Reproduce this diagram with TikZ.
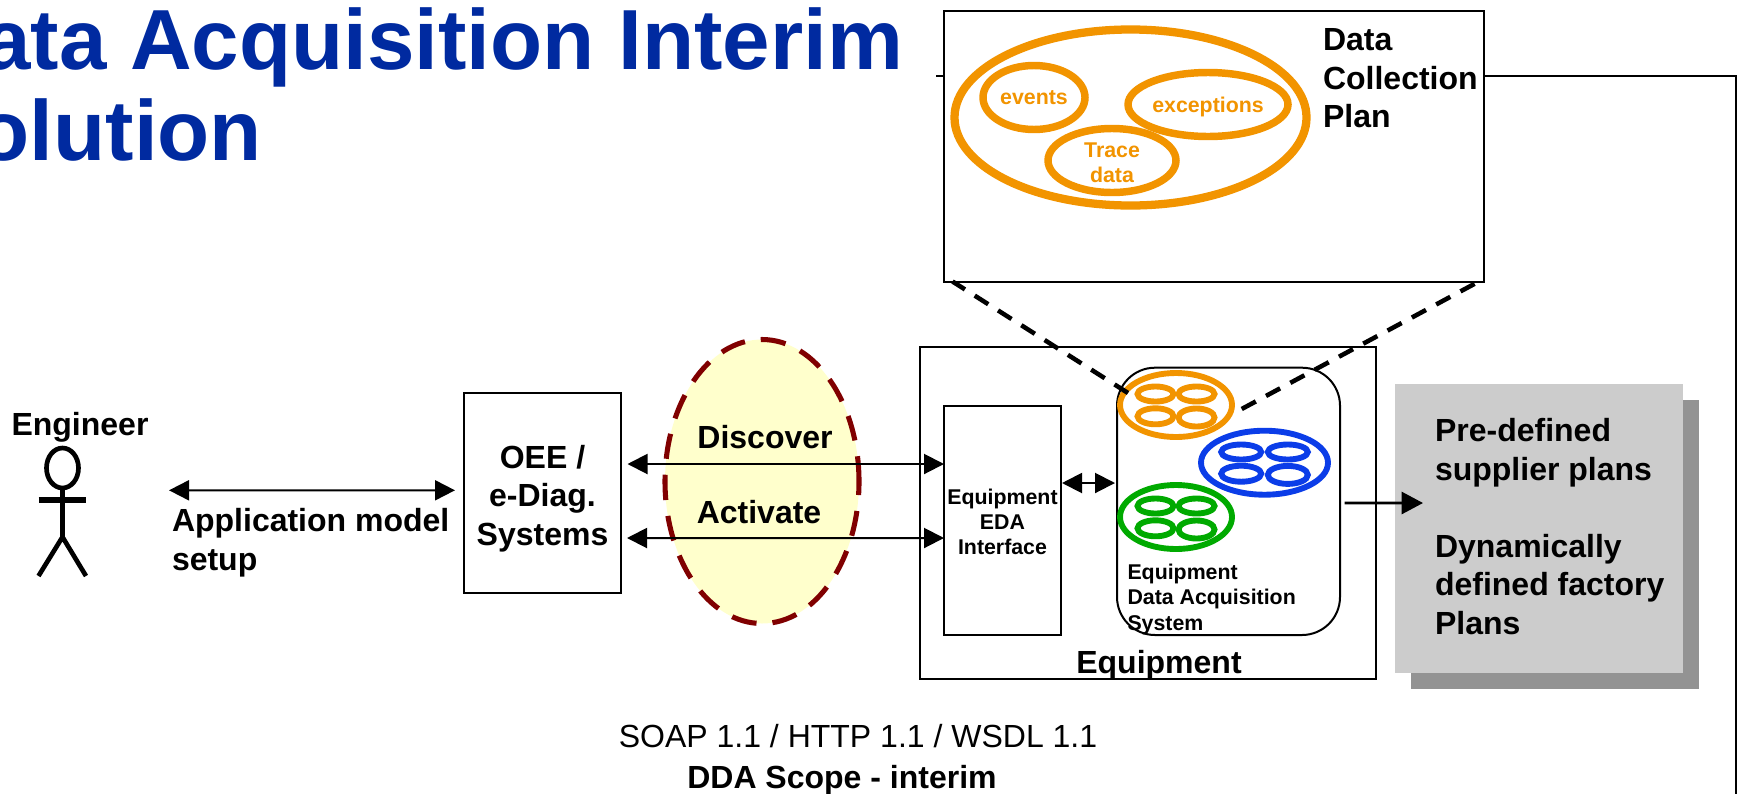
\documentclass[tikz,border=0pt]{standalone}
\usepackage{fontspec}
\setmainfont{Liberation Sans}
\usetikzlibrary{arrows.meta,shapes.geometric,calc}
\definecolor{titleblue}{HTML}{002AA0}
\definecolor{planorange}{HTML}{F29400}
\definecolor{setblue}{HTML}{0B3DE8}
\definecolor{setgreen}{HTML}{00AA00}
\definecolor{darkred}{HTML}{800000}
\definecolor{paleyellow}{HTML}{FFFFCC}
\definecolor{greybox}{HTML}{CCCCCC}
\definecolor{greyshadow}{HTML}{939393}
\def\u{0.75pt}
\tikzset{
  plainbox/.style={draw=black,fill=white,line width=1.5pt,rectangle,inner sep=0pt,outer sep=0pt},
  ring/.style={ellipse,draw=#1,line width=4.4pt,inner sep=0pt,outer sep=0pt},
  lobe/.style={ellipse,draw=#1,line width=4.4pt,inner sep=0pt,outer sep=0pt},
  big/.style={font=\fontsize{24}{28.875}\selectfont\bfseries,inner sep=0pt,outer sep=0pt},
  bigplain/.style={font=\fontsize{24}{28.875}\selectfont,inner sep=0pt,outer sep=0pt},
  small/.style={font=\fontsize{16}{18.9}\selectfont\bfseries,inner sep=0pt,outer sep=0pt},
  titletext/.style={font=\fontsize{64}{69}\selectfont\bfseries,text=titleblue,inner sep=0pt,outer sep=0pt},
  conn/.style={line width=1.5pt,draw=black},
  biarrow/.style={conn,{Triangle[length=15pt,width=15pt]}-{Triangle[length=15pt,width=15pt]}},
  oneway/.style={line width=2pt,draw=black,-{Triangle[length=16pt,width=16.5pt]}},
  zoomdash/.style={line width=3.4pt,draw=black,dash pattern=on 12pt off 8.7pt},
  limb/.style={line width=3.5pt,draw=black},
}
% ring name, centre x, centre y, colour, rx, lobe half spacing x, lobe rx, top/bottom y offsets
\newcommand{\dataset}[8]{%
  \node[ring=#4,minimum width=2*#5*\u,minimum height=64*\u] (#1) at (#2,#3) {};
  \node[lobe=#4,minimum width=2*#7*\u,minimum height=15*\u] (#1tl) at ($(#1.center)+(-#6,-#8)$) {};
  \node[lobe=#4,minimum width=2*#7*\u,minimum height=15*\u] (#1tr) at ($(#1.center)+(#6,-#8)$) {};
  \node[lobe=#4,minimum width=2*#7*\u,minimum height=16*\u] (#1bl) at ($(#1.center)+(-#6,#8+0.3)$) {};
  \node[lobe=#4,minimum width=2*#7*\u,minimum height=18*\u] (#1br) at ($(#1.center)+(#6,#8+1.5)$) {};
}
\begin{document}
\begin{tikzpicture}[x=\u,y=-\u]
\useasboundingbox (0,0) rectangle (1740,793);

% title
\node[titletext,anchor=base east] (title1) at (903,69) {ata Acquisition Interim};
\node[titletext,anchor=base east] (title2) at (262,160) {olution};

% long feedback line and its free ends
\coordinate (stub) at (936,76);
\coordinate (corner) at (1735.5,76);
\coordinate (bottom) at (1735.5,795);

% data collection plan
\node[plainbox,minimum width=540*\u,minimum height=270.5*\u] (plan) at (1214,146.25) {};
\node[ring=planorange,line width=6.2pt,minimum width=352*\u,minimum height=176*\u] (planall) at (1130.5,117.5) {};
\node[ring=planorange,line width=5.6pt,minimum width=102*\u,minimum height=64*\u] (events) at (1034,97.5) {};
\node[ring=planorange,line width=5.6pt,minimum width=160*\u,minimum height=64*\u] (exceptions) at (1208,104.5) {};
\node[ring=planorange,line width=5.6pt,minimum width=128*\u,minimum height=64*\u] (trace) at (1112,160.5) {};
\node[small,text=planorange] (eventstext) at (1034,97.5) {events};
\node[small,text=planorange] (exceptionstext) at (1208,106.5) {exceptions};
\node[small,text=planorange,align=center] (tracetext) at (1112,162.5) {Trace\\data};
\node[big,anchor=west,align=left] (plantitle) at (1323,78.5) {Data\\Collection\\Plan};
\draw[conn] (stub) -- ([shift={(0,-70.25)}]plan.west);
\draw[conn] ([shift={(0,-70.25)}]plan.east) -- (corner) -- (bottom);

% equipment
\node[plainbox,minimum width=456*\u,minimum height=332*\u] (equipment) at (1148,513) {};
\node[big,anchor=base] (equiplabel) at (1159,673) {Equipment};
\node[plainbox,minimum width=117*\u,minimum height=229.5*\u] (eda) at (1002.5,520.25) {};
\node[small,align=center] (edatext) at (1002.5,522) {Equipment\\EDA\\Interface};
\node[plainbox,rounded corners=28.5pt,minimum width=223*\u,minimum height=267.3*\u] (system) at (1228.5,501.35) {};
\dataset{orangeset}{1176}{405}{planorange}{56}{20.5}{18}{11}
\dataset{blueset}{1264.5}{462.7}{setblue}{63.5}{23.3}{20}{10.7}
\dataset{greenset}{1176}{517}{setgreen}{56}{20.5}{18}{11}
\node[small,anchor=west,align=left] (systemlabel) at (1127.5,599.4) {Equipment\\Data Acquisition\\System};
\draw[zoomdash] ([shift={(-48,-12)}]orangeset.center) -- ([shift={(8.5,0)}]plan.south west);
\draw[zoomdash] ([shift={(65.7,4)}]orangeset.center) -- ([shift={(-7,1)}]plan.south east);
\draw[biarrow] ([shift={(1,-37.25)}]eda.east) -- ([shift={(-2,-18.35)}]system.west);

% supplier plans
\fill[greyshadow] (1411,400) rectangle (1698.5,689);
\node[rectangle,fill=greybox,inner sep=0pt,outer sep=0pt,minimum width=288*\u,minimum height=288.7*\u] (plans) at (1539,528.35) {};
\node[big,anchor=west,align=left] (planstext) at (1435,526.5) {Pre-defined\\supplier plans\\[28.875pt]Dynamically\\defined factory\\Plans};
\draw[oneway] ([shift={(4.6,1.65)}]system.east) -- ([shift={(28,-25.35)}]plans.west);

% engineer
\node[big,anchor=base] (engineer) at (80,435) {Engineer};
\node[ellipse,draw=black,line width=3.5pt,inner sep=0pt,outer sep=0pt,minimum width=32*\u,minimum height=40*\u] (head) at (62.5,468) {};
\coordinate (armL) at (38.5,500);
\coordinate (armR) at (86,500);
\coordinate (hip) at (62.5,537);
\coordinate (footL) at (38.5,576);
\coordinate (footR) at (86,576);
\draw[limb] (head.south) -- (hip);
\draw[line width=4.6pt,draw=black] (armL) -- (armR);
\draw[limb] (footL) -- (hip) -- (footR);

% OEE
\node[plainbox,minimum width=157*\u,minimum height=200.3*\u] (oee) at (542.5,492.85) {};
\node[big,align=center] (oeetext) at (542.5,498.5) {OEE /\\e-Diag.\\Systems};
\coordinate (engineerside) at (169,490.3);
\draw[biarrow] (engineerside) -- ([shift={(-9,-2.55)}]oee.west);
\node[big,anchor=west,align=left] (appmodel) at (172,542.5) {Application model\\setup};

% yellow bubble
\node[ellipse,fill=paleyellow,draw=darkred,line width=3.8pt,dash pattern=on 19pt off 12pt,inner sep=0pt,outer sep=0pt,minimum width=194*\u,minimum height=284*\u] (bubble) at (762,481.5) {};
\node[big,anchor=base] (discover) at (765,448.5) {Discover};
\node[big,anchor=base] (activate) at (759,523.5) {Activate};
\draw[biarrow] ([shift={(6.5,-28.85)}]oee.east) -- ([shift={(0,-56.25)}]eda.west);
\draw[biarrow] ([shift={(6,45.15)}]oee.east) -- ([shift={(0,17.75)}]eda.west);

% caption
\node[bigplain,anchor=base] (protocols) at (858,747) {SOAP 1.1 / HTTP 1.1 / WSDL 1.1};
\node[big,anchor=base] (scope) at (842,788) {DDA Scope - interim};
\end{tikzpicture}
\end{document}
